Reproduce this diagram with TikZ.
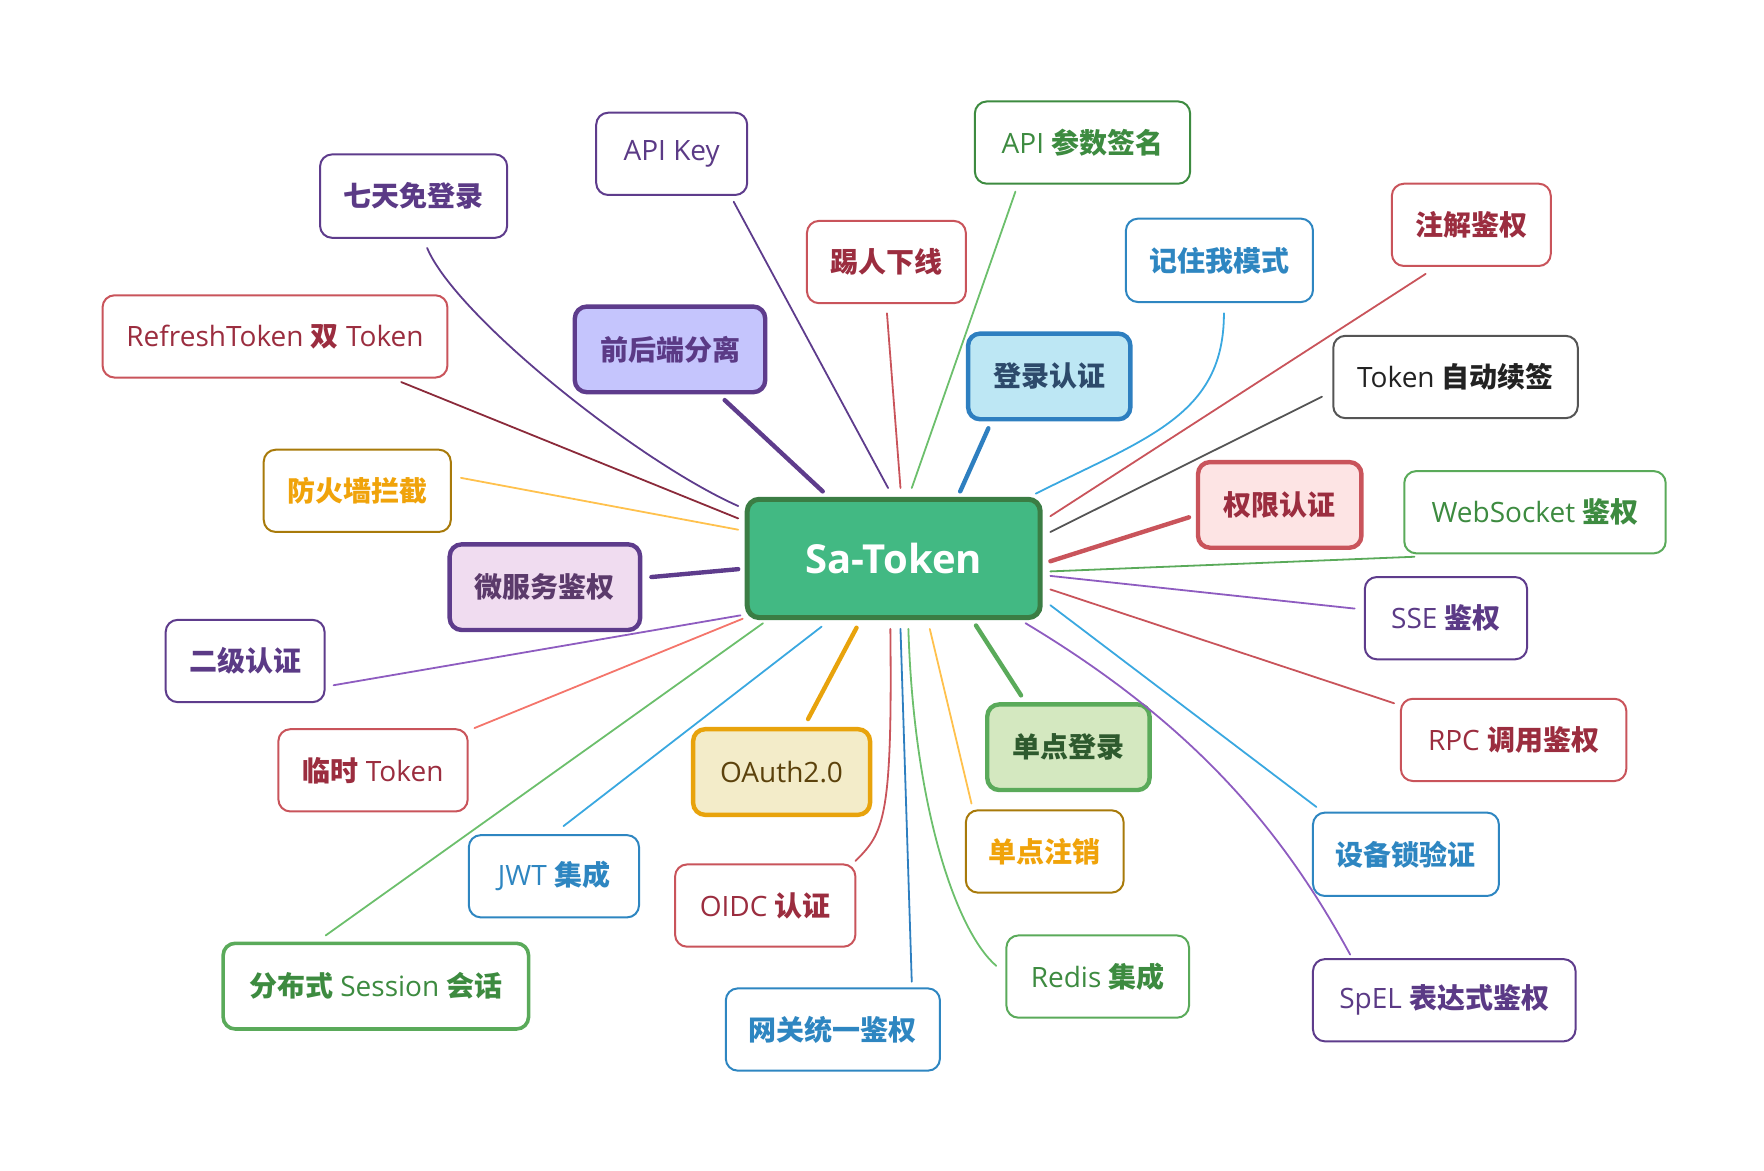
\documentclass[tikz,border=0pt]{standalone}
\usepackage{fontspec}
\setmainfont{Open Sans}
\newfontfamily\cjk{Noto Sans CJK SC}
\newcommand{\zh}[1]{{\cjk\bfseries #1}}
\usetikzlibrary{calc}
\definecolor{pur}{HTML}{5E3C8C}
\definecolor{purtx}{HTML}{5B3A86}
\definecolor{purln}{HTML}{8E5CC0}
\definecolor{grn}{HTML}{3D8B40}
\definecolor{grnln}{HTML}{6CBF6C}
\definecolor{grnthick}{HTML}{5AAA5A}
\definecolor{rd}{HTML}{C9545B}
\definecolor{redtx}{HTML}{9B2D3F}
\definecolor{redln}{HTML}{8B2A3A}
\definecolor{salmon}{HTML}{F4756B}
\definecolor{blu}{HTML}{2E86C1}
\definecolor{bluln}{HTML}{3AA8E0}
\definecolor{bludk}{HTML}{2E7FC0}
\definecolor{gold}{HTML}{A87A0A}
\definecolor{orgtx}{HTML}{F0A30A}
\definecolor{orgln}{HTML}{FFC14D}
\definecolor{orgthk}{HTML}{E8A30C}
\definecolor{gry}{HTML}{555555}
\definecolor{stborder}{HTML}{3B7D44}
\definecolor{stfill}{HTML}{42B983}
\definecolor{qhfill}{HTML}{C5C5FD}
\definecolor{dlfill}{HTML}{BDE7F4}
\definecolor{dltx}{HTML}{2D4A6B}
\definecolor{qxfill}{HTML}{FDE4E4}
\definecolor{wffill}{HTML}{F0DCF0}
\definecolor{wftx}{HTML}{5B3A6B}
\definecolor{ddfill}{HTML}{D4E8C0}
\definecolor{ddtx}{HTML}{2E5A2E}
\definecolor{oafill}{HTML}{F3ECC9}
\definecolor{oatx}{HTML}{5C420C}
\definecolor{blk}{HTML}{222222}
\tikzset{
  leaf/.style={draw, rounded corners=6pt, line width=1pt, inner sep=0pt, fill=white,
    font=\fontsize{14}{16}\selectfont, anchor=center},
  hub/.style={leaf, line width=2.2pt},
  sz/.style 2 args={minimum width=#1*0.5635pt, minimum height=#2*0.5635pt},
  ln/.style={line width=0.9pt, line cap=round},
  thk/.style={line width=2.2pt},
}
\begin{document}
\begin{tikzpicture}[x=0.5635pt, y=-0.5635pt]
\useasboundingbox (0,0) rectangle (1565.2,1038.2);
% central node
\node[leaf, line width=2.5pt, draw=stborder, fill=stfill, text=white,
  font=\fontsize{20}{22}\selectfont\bfseries, sz={260}{105}] (st) at (793,495.5) {Sa-Token};
% leaves
\node[leaf, draw=pur, text=purtx, sz={166}{74}] (qitian) at (367,174) {\zh{七天免登录}};
\node[leaf, draw=pur, text=purtx, sz={134}{73}] (apikey) at (596,136.5) {API Key};
\node[leaf, draw=grn, text=grn, sz={191}{73}] (apisign) at (960.5,126.5) {API \zh{参数签名}};
\node[leaf, draw=rd, text=redtx, sz={141}{73}] (tiren) at (786.5,232.5) {\zh{踢人下线}};
\node[leaf, draw=blu, text=blu, sz={166}{74}] (jizhu) at (1082,231) {\zh{记住我模式}};
\node[leaf, draw=rd, text=redtx, sz={141}{73}] (zhujie) at (1305.5,199.5) {\zh{注解鉴权}};
\node[leaf, draw=rd, text=redtx, sz={306}{73}] (refresh) at (244,298.5) {RefreshToken \zh{双} Token};
\node[hub, draw=pur, fill=qhfill, text=purtx, sz={169}{76}] (qianhou) at (594.5,310) {\zh{前后端分离}};
\node[hub, draw=bludk, fill=dlfill, text=dltx, sz={144}{76}] (denglu) at (931,334) {\zh{登录认证}};
\node[leaf, draw=gry, text=blk, sz={217}{73}] (tokenauto) at (1291.5,334.5) {Token \zh{自动续签}};
\node[leaf, draw=gold, text=orgtx, sz={166}{73}] (fanghuo) at (317,435.5) {\zh{防火墙拦截}};
\node[hub, draw=rd, fill=qxfill, text=redtx, sz={145}{76}] (quanxian) at (1135.5,448) {\zh{权限认证}};
\node[leaf, draw=grnthick, text=grn, sz={232}{73}] (websocket) at (1362,454.5) {WebSocket \zh{鉴权}};
\node[hub, draw=pur, fill=wffill, text=wftx, sz={169}{76}] (weifuwu) at (483.5,521) {\zh{微服务鉴权}};
\node[leaf, draw=pur, text=purtx, sz={141}{73}] (erji) at (217.5,586.5) {\zh{二级认证}};
\node[leaf, draw=pur, text=purtx, sz={144}{73}] (sse) at (1283,548.5) {SSE \zh{鉴权}};
\node[leaf, draw=rd, text=redtx, sz={168}{73}] (linshi) at (331,683.5) {\zh{临时} Token};
\node[leaf, draw=rd, text=redtx, sz={200}{73}] (rpc) at (1343,656.5) {RPC \zh{调用鉴权}};
\node[hub, draw=grnthick, fill=ddfill, text=ddtx, sz={144}{76}] (dandian) at (948,663) {\zh{单点登录}};
\node[hub, draw=orgthk, fill=oafill, text=oatx, sz={157}{76}] (oauth) at (693.5,685) {OAuth2.0};
\node[leaf, draw=gold, text=orgtx, sz={140}{73}] (zhuxiao) at (927,755.5) {\zh{单点注销}};
\node[leaf, draw=blu, text=blu, sz={165}{74}] (shebei) at (1247.5,758) {\zh{设备锁验证}};
\node[leaf, draw=blu, text=blu, sz={151}{73}] (jwt) at (491.5,777.5) {JWT \zh{集成}};
\node[leaf, draw=rd, text=redtx, sz={160}{73}] (oidc) at (679,803.5) {OIDC \zh{认证}};
\node[hub, line width=1.8pt, draw=grnthick, text=grn, sz={271}{76}] (session) at (333.5,875) {\zh{分布式} Session \zh{会话}};
\node[leaf, draw=grnthick, text=grn, sz={162}{73}] (redis) at (974,866.5) {Redis \zh{集成}};
\node[leaf, draw=pur, text=purtx, sz={233}{73}] (spel) at (1281.5,887.5) {SpEL \zh{表达式鉴权}};
\node[leaf, draw=blu, text=blu, sz={190}{73}] (wangguan) at (739,913.5) {\zh{网关统一鉴权}};
% connectors
\draw[ln, pur] ($(st)+(-138,-46.5)$) .. controls +(-90,-40) and +(25,60) .. ($(qitian)+(12,46)$);
\draw[ln, pur] ($(st)+(-5,-62.5)$) -- ($(apikey)+(55,42.5)$);
\draw[ln, grnln] ($(st)+(16,-62.5)$) -- ($(apisign)+(-59.5,43.5)$);
\draw[ln, rd] ($(st)+(6,-62.5)$) -- ($(tiren)+(0.5,45.5)$);
\draw[ln, bluln] ($(st)+(126,-57.5)$) .. controls +(100,-50) and +(0,90) .. ($(jizhu)+(4,47)$);
\draw[ln, rd] ($(st)+(139,-37.5)$) -- ($(zhujie)+(-40.5,43.5)$);
\draw[ln, redln] ($(st)+(-138,-35.5)$) -- ($(refresh)+(112,40.5)$);
\draw[ln, thk, pur] ($(st)+(-63,-59.5)$) -- ($(qianhou)+(48.5,45)$);
\draw[ln, thk, bludk] ($(st)+(59,-59.5)$) -- ($(denglu)+(-54,46)$);
\draw[ln, gry] ($(st)+(139,-23.5)$) -- ($(tokenauto)+(-118.5,17.5)$);
\draw[ln, orgln] ($(st)+(-138,-25.5)$) -- ($(fanghuo)+(92,-11.5)$);
\draw[ln, thk, rd] ($(st)+(139,2.5)$) -- ($(quanxian)+(-80.5,11)$);
\draw[ln, grnthick] ($(st)+(139,11.5)$) -- ($(websocket)+(-107,39.5)$);
\draw[ln, thk, pur] ($(st)+(-138,9.5)$) -- ($(weifuwu)+(94.5,-9)$);
\draw[ln, purln] ($(st)+(-136,50.5)$) -- ($(erji)+(78.5,21.5)$);
\draw[ln, purln] ($(st)+(139,15.5)$) -- ($(sse)+(-81,-8.5)$);
\draw[ln, salmon] ($(st)+(-134,53.5)$) -- ($(linshi)+(90,-37.5)$);
\draw[ln, rd] ($(st)+(139,27.5)$) -- ($(rpc)+(-106,-32.5)$);
\draw[ln, thk, grnthick] ($(st)+(73,59.5)$) -- ($(dandian)+(-42,-46)$);
\draw[ln, thk, orgthk] ($(st)+(-33,61.5)$) -- ($(oauth)+(23.5,-47)$);
\draw[ln, orgln] ($(st)+(32,62.5)$) -- ($(zhuxiao)+(-65,-42.5)$);
\draw[ln, bluln] ($(st)+(139,41.5)$) -- ($(shebei)+(-79.5,-42)$);
\draw[ln, bluln] ($(st)+(-64,60.5)$) -- ($(jwt)+(8.5,-44.5)$);
\draw[ln, rd] ($(st)+(-3,62.5)$) .. controls +(2,170) and +(25,-25) .. ($(oidc)+(80,-39.5)$);
\draw[ln, grnln] ($(st)+(-116,57.5)$) -- ($(session)+(-44.5,-45)$);
\draw[ln, grnln] ($(st)+(13,62.5)$) .. controls +(5,160) and +(-35,-30) .. ($(redis)+(-90,-9.5)$);
\draw[ln, purln] ($(st)+(117,57.5)$) .. controls +(150,90) and +(-60,-110) .. ($(spel)+(-83.5,-40.5)$);
\draw[ln, bludk] ($(st)+(6,62.5)$) -- ($(wangguan)+(70,-42.5)$);
\end{tikzpicture}
\end{document}
